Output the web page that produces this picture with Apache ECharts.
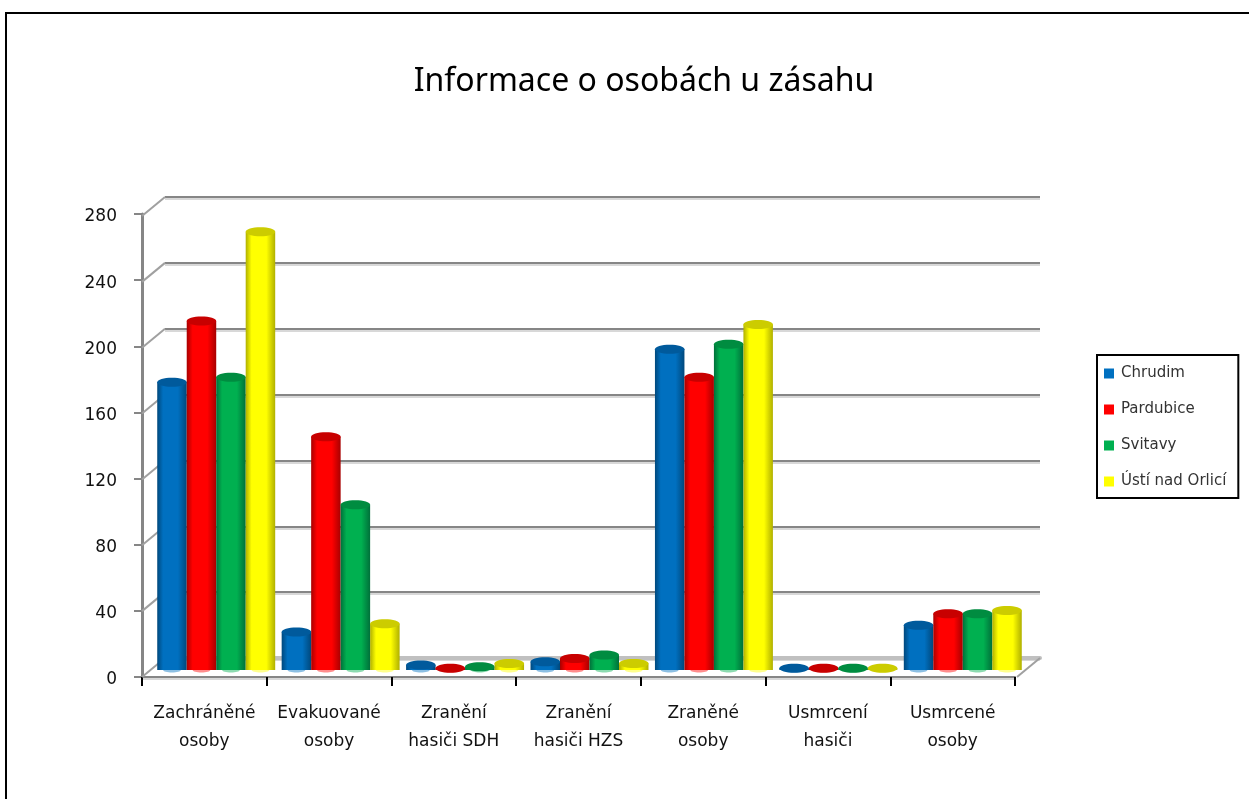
<!DOCTYPE html>
<html>
<head>
<meta charset="utf-8">
<title>Informace o osobách u zásahu</title>
<script src="https://cdn.jsdelivr.net/npm/echarts@6/dist/echarts.min.js"></script>
<style>
html, body { margin: 0; padding: 0; background: #fff; }
#chart { width: 1249px; height: 799px; }
</style>
</head>
<body>
<div id="chart"></div>
<script>
const categories = [
  'Zachráněné\nosoby',
  'Evakuované\nosoby',
  'Zranění\nhasiči SDH',
  'Zranění\nhasiči HZS',
  'Zraněné\nosoby',
  'Usmrcení\nhasiči',
  'Usmrcené\nosoby',
]
const seriesNames = ['Chrudim', 'Pardubice', 'Svitavy', 'Ústí nad Orlicí']
const chrudim = [174, 23, 3, 5, 194, 1, 27]
const pardubice = [211, 141, 1, 7, 177, 1, 34]
const svitavy = [177, 100, 2, 9, 197, 1, 34]
const ustiNadOrlici = [265, 28, 4, 4, 209, 1, 36]
const seriesValues = [chrudim, pardubice, svitavy, ustiNadOrlici]
const yTicks = [0, 40, 80, 120, 160, 200, 240, 280]

// base, dark edge, top cap
const palette = [
  ['#0070c0', '#00487c', '#005a9c'],
  ['#ff0000', '#a80000', '#c80000'],
  ['#00b050', '#00703a', '#008c40'],
  ['#ffff00', '#b0b000', '#cccc00'],
]

const depthX = 23
const depthY = 19

function cylinder(idx) {
  return function (params, api) {
    const top = api.coord([api.value(0), api.value(1)])
    const base = api.coord([api.value(0), 0])
    const band = api.size([1, 0])[0]
    const w = band * 0.237
    const cx = top[0] + (idx - 1.5) * w
    const x = cx - w / 2
    const [c, dark, cap] = palette[idx]
    const rx = w / 2
    const ry = 4.5
    const body = new echarts.graphic.LinearGradient(0, 0, 1, 0, [
      { offset: 0, color: dark },
      { offset: 0.2, color: c },
      { offset: 0.7, color: c },
      { offset: 1, color: dark },
    ])
    return {
      type: 'group',
      children: [
        { type: 'ellipse', shape: { cx: cx, cy: base[1], rx: rx * 0.6, ry: 2.5 }, style: { fill: c, opacity: 0.45 } },
        { type: 'rect', shape: { x: x, y: top[1], width: w, height: base[1] - top[1] }, style: { fill: body } },
        { type: 'ellipse', shape: { cx: cx, cy: top[1], rx: rx, ry: ry }, style: { fill: cap } },
      ],
    }
  }
}

const chart = echarts.init(document.getElementById('chart'), null, { renderer: 'canvas' })

const labelFont = 'DejaVu Sans'

chart.setOption({
  animation: false,
  backgroundColor: '#ffffff',
  title: {
    text: 'Informace o osobách u zásahu',
    left: 639,
    top: 61,
    textAlign: 'center',
    textStyle: { fontFamily: 'Noto Sans', fontSize: 32, fontWeight: 'normal', color: '#000000' },
  },
  legend: {
    orient: 'vertical',
    left: 1097,
    top: 355,
    padding: [11, 12, 9, 7],
    itemGap: 21,
    itemWidth: 10,
    itemHeight: 10,
    icon: 'rect',
    borderColor: '#000000',
    borderWidth: 2,
    backgroundColor: '#ffffff',
    data: seriesNames,
    textStyle: { fontFamily: labelFont, fontSize: 15, color: '#333333', padding: [0, 0, 0, 2] },
  },
  grid: [
    // front plane, carries the ticks and labels
    { left: 142, top: 214, width: 873, height: 463 },
    // back wall, carries the gridlines
    { left: 165, top: 197, width: 875, height: 461 },
    // plane the bars stand on
    { left: 154, top: 207, width: 871, height: 463 },
  ],
  xAxis: [
    {
      gridIndex: 0,
      type: 'category',
      data: categories,
      boundaryGap: true,
      axisLine: { lineStyle: { color: '#868686', width: 2, shadowColor: '#d8d8d8', shadowOffsetY: 2 } },
      axisTick: { show: true, alignWithLabel: false, length: 9, lineStyle: { color: '#000000', width: 2 } },
      axisLabel: {
        interval: 0,
        margin: 23,
        fontFamily: labelFont,
        fontSize: 17,
        lineHeight: 28,
        color: '#111111',
      },
    },
    {
      gridIndex: 1,
      type: 'category',
      data: categories,
      axisLine: { lineStyle: { color: '#c0c0c0', width: 4 } },
      axisTick: { show: false },
      axisLabel: { show: false },
    },
    {
      gridIndex: 2,
      type: 'category',
      data: categories,
      axisLine: { show: false },
      axisTick: { show: false },
      axisLabel: { show: false },
    },
  ],
  yAxis: [
    {
      gridIndex: 0,
      type: 'value',
      min: 0,
      max: 280,
      interval: 40,
      axisLine: { show: true, lineStyle: { color: '#868686', width: 3 } },
      axisTick: { show: true, length: 8, lineStyle: { color: '#868686', width: 2 } },
      axisLabel: {
        margin: 25,
        verticalAlign: 'top',
        lineHeight: 6,
        fontFamily: labelFont,
        fontSize: 17,
        color: '#111111',
      },
      splitLine: { show: false },
    },
    {
      gridIndex: 1,
      type: 'value',
      min: 0,
      max: 280,
      interval: 40,
      axisLine: { show: false },
      axisTick: { show: false },
      axisLabel: { show: false },
      splitLine: {
        show: true,
        lineStyle: { color: '#868686', width: 2, shadowColor: '#d8d8d8', shadowOffsetY: 2 },
      },
    },
    {
      gridIndex: 2,
      type: 'value',
      min: 0,
      max: 280,
      interval: 40,
      axisLine: { show: false },
      axisTick: { show: false },
      axisLabel: { show: false },
      splitLine: { show: false },
    },
  ],
  series: [
    // diagonal connectors running from each tick back to the wall
    {
      type: 'custom',
      silent: true,
      legendHoverLink: false,
      xAxisIndex: 1,
      yAxisIndex: 1,
      data: yTicks.map((t) => [0, t]),
      clip: false,
      z: 1,
      renderItem: function (params, api) {
        const p = api.coord([0, api.value(1)])
        const x = p[0] - api.size([1, 0])[0] / 2
        return {
          type: 'line',
          shape: { x1: x, y1: p[1], x2: x - depthX, y2: p[1] + depthY },
          style: { stroke: '#a0a0a0', lineWidth: 2 },
        }
      },
    },
    // right edge of the floor
    {
      type: 'custom',
      silent: true,
      legendHoverLink: false,
      xAxisIndex: 1,
      yAxisIndex: 1,
      data: [[categories.length - 1, 0]],
      clip: false,
      z: 1,
      renderItem: function (params, api) {
        const p = api.coord([api.value(0), 0])
        const x = p[0] + api.size([1, 0])[0] / 2
        return {
          type: 'line',
          shape: { x1: x, y1: p[1], x2: x - depthX, y2: p[1] + depthY },
          style: { stroke: '#a0a0a0', lineWidth: 2 },
        }
      },
    },
  ].concat(
    seriesNames.map((name, idx) => ({
      name: name,
      type: 'custom',
      xAxisIndex: 2,
      yAxisIndex: 2,
      itemStyle: { color: palette[idx][0] },
      data: seriesValues[idx].map((v, i) => [i, v]),
      encode: { x: 0, y: 1 },
      clip: false,
      z: 5 + idx,
      renderItem: cylinder(idx),
    }))
  ),
  graphic: [
    {
      type: 'rect',
      silent: true,
      z: 100,
      shape: { x: 6, y: 13, width: 1300, height: 900 },
      style: { fill: 'none', stroke: '#000000', lineWidth: 2 },
    },
  ],
})

window.addEventListener('resize', () => chart.resize())
</script>
</body>
</html>
